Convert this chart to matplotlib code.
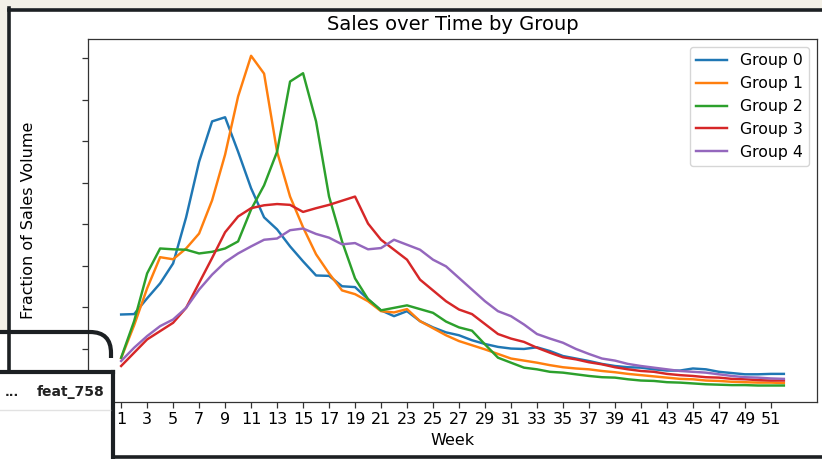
import matplotlib
matplotlib.use("Agg")
import matplotlib.pyplot as plt
from matplotlib.ticker import MultipleLocator
from matplotlib.patches import Rectangle, PathPatch
from matplotlib.path import Path
from matplotlib.lines import Line2D

# weekly share of sales volume per group
weeks = list(range(1, 53))

group_0 = [0.0183, 0.0184, 0.0222, 0.0258, 0.0306, 0.0417, 0.0551, 0.0648, 0.0658, 0.0575,
           0.0487, 0.0417, 0.0388, 0.0347, 0.0311, 0.0277, 0.0276, 0.0251, 0.0249, 0.0220,
           0.0193, 0.0179, 0.0191, 0.0167, 0.0152, 0.0140, 0.0133, 0.0121, 0.0112, 0.0105,
           0.0101, 0.0100, 0.0104, 0.0095, 0.0083, 0.0077, 0.0071, 0.0064, 0.0059, 0.0056,
           0.0055, 0.0051, 0.0048, 0.0048, 0.0053, 0.0051, 0.0045, 0.0042, 0.0039, 0.0039,
           0.0040, 0.0040]
group_1 = [0.0078, 0.0157, 0.0246, 0.0321, 0.0316, 0.0342, 0.0378, 0.0458, 0.0568, 0.0708,
           0.0806, 0.0763, 0.0575, 0.0467, 0.0393, 0.0328, 0.0282, 0.0241, 0.0232, 0.0215,
           0.0191, 0.0188, 0.0196, 0.0167, 0.0150, 0.0133, 0.0119, 0.0109, 0.0099, 0.0088,
           0.0077, 0.0072, 0.0067, 0.0061, 0.0056, 0.0053, 0.0051, 0.0047, 0.0044, 0.0040,
           0.0037, 0.0034, 0.0031, 0.0028, 0.0027, 0.0024, 0.0023, 0.0021, 0.0020, 0.0019,
           0.0019, 0.0018]
group_2 = [0.0079, 0.0167, 0.0282, 0.0342, 0.0340, 0.0339, 0.0330, 0.0334, 0.0342, 0.0359,
           0.0436, 0.0494, 0.0575, 0.0744, 0.0764, 0.0648, 0.0467, 0.0359, 0.0270, 0.0220,
           0.0193, 0.0199, 0.0205, 0.0196, 0.0187, 0.0166, 0.0152, 0.0144, 0.0111, 0.0079,
           0.0067, 0.0055, 0.0051, 0.0045, 0.0043, 0.0039, 0.0035, 0.0032, 0.0031, 0.0027,
           0.0024, 0.0023, 0.0020, 0.0019, 0.0017, 0.0015, 0.0014, 0.0013, 0.0013, 0.0012,
           0.0012, 0.0012]
group_3 = [0.0059, 0.0091, 0.0123, 0.0143, 0.0163, 0.0199, 0.0259, 0.0319, 0.0381, 0.0419,
           0.0439, 0.0446, 0.0449, 0.0447, 0.0430, 0.0439, 0.0447, 0.0457, 0.0467, 0.0402,
           0.0363, 0.0339, 0.0315, 0.0267, 0.0241, 0.0215, 0.0195, 0.0184, 0.0160, 0.0136,
           0.0125, 0.0117, 0.0103, 0.0091, 0.0080, 0.0075, 0.0068, 0.0063, 0.0056, 0.0051,
           0.0047, 0.0045, 0.0040, 0.0037, 0.0035, 0.0032, 0.0031, 0.0028, 0.0027, 0.0025,
           0.0024, 0.0024]
group_4 = [0.0071, 0.0103, 0.0131, 0.0155, 0.0171, 0.0199, 0.0243, 0.0279, 0.0309, 0.0330,
           0.0347, 0.0363, 0.0366, 0.0386, 0.0390, 0.0377, 0.0368, 0.0352, 0.0355, 0.0340,
           0.0343, 0.0363, 0.0351, 0.0339, 0.0315, 0.0299, 0.0271, 0.0243, 0.0215, 0.0191,
           0.0179, 0.0159, 0.0136, 0.0125, 0.0115, 0.0100, 0.0088, 0.0077, 0.0072, 0.0064,
           0.0059, 0.0055, 0.0051, 0.0047, 0.0045, 0.0043, 0.0039, 0.0035, 0.0032, 0.0031,
           0.0029, 0.0028]

groups = [group_0, group_1, group_2, group_3, group_4]
labels = ["Group 0", "Group 1", "Group 2", "Group 3", "Group 4"]

W, H = 822, 459
fig = plt.figure(figsize=(W / 100, H / 100), dpi=100)
fig.patch.set_facecolor("white")

def fx(x):
    return x / W

def fy(y):
    return 1 - y / H

ax = fig.add_axes([fx(88), fy(402), fx(817) - fx(88), fy(39.3) - fy(402)])

for i, vals in enumerate(groups):
    ax.plot(weeks, vals, label=labels[i], color=f"C{i}", linewidth=1.75)

ax.set_title("Sales over Time by Group", fontsize=14, pad=7)
ax.set_xlabel("Week", fontsize=11.5)
ax.set_ylabel("Fraction of Sales Volume", fontsize=11.5)
ax.yaxis.set_label_coords(-0.071, 0.5)
ax.set_xticks(weeks[::2])
ax.yaxis.set_major_locator(MultipleLocator(0.01))
ax.tick_params(axis="y", labelleft=False, length=4, width=0.9, color="#333333")
ax.tick_params(axis="x", labelsize=11.5, length=4, width=0.9, color="#333333")
for s in ax.spines.values():
    s.set_linewidth(0.9)
    s.set_color("#333333")
ax.legend(loc="upper right", fontsize=11.3, handlelength=2.0)

# screenshot surroundings: beige margin, dark frame, and the table box bottom-left
beige = "#f3f0e7"
dark = "#1c2023"
fig.add_artist(Rectangle((0, fy(8)), 1, 1 - fy(8), transform=fig.transFigure, color=beige, zorder=5))
fig.add_artist(Rectangle((0, fy(332)), fx(7.5), 1 - fy(332), transform=fig.transFigure, color=beige, zorder=5))
fig.add_artist(Line2D([fx(8.5), 1], [fy(9.5), fy(9.5)], transform=fig.transFigure, color=dark, lw=2.6, zorder=6))
fig.add_artist(Line2D([fx(8.5), fx(8.5)], [fy(8), fy(372)], transform=fig.transFigure, color=dark, lw=2.6, zorder=6))
fig.add_artist(Line2D([fx(112), 1], [fy(457), fy(457)], transform=fig.transFigure, color=dark, lw=2.6, zorder=6))

arc = Path([(fx(0), fy(332)), (fx(90), fy(332)), (fx(111), fy(332)), (fx(111), fy(353)), (fx(111), fy(358))],
           [Path.MOVETO, Path.LINETO, Path.CURVE3, Path.CURVE3, Path.LINETO])
fig.add_artist(PathPatch(arc, transform=fig.transFigure, fill=False, edgecolor=dark, lw=3, zorder=6))

fig.add_artist(Rectangle((0, 0), fx(112), fy(372), transform=fig.transFigure, facecolor="white",
                         edgecolor="none", zorder=6))
fig.add_artist(Line2D([0, fx(112.5)], [fy(372), fy(372)], transform=fig.transFigure, color=dark, lw=3, zorder=7))
fig.add_artist(Line2D([fx(112.5), fx(112.5)], [fy(372), 0], transform=fig.transFigure, color=dark, lw=3, zorder=7))
fig.add_artist(Line2D([0, fx(110)], [fy(410), fy(410)], transform=fig.transFigure, color="#e2e2e2", lw=1, zorder=7))
fig.text(fx(12), fy(392), "...", ha="center", va="center", fontsize=9, fontweight="bold", color="#222222", zorder=8)
fig.text(fx(104), fy(392), "feat_758", ha="right", va="center", fontsize=10, fontweight="bold", color="#222222", zorder=8)

fig.savefig("out.png", dpi=100)
